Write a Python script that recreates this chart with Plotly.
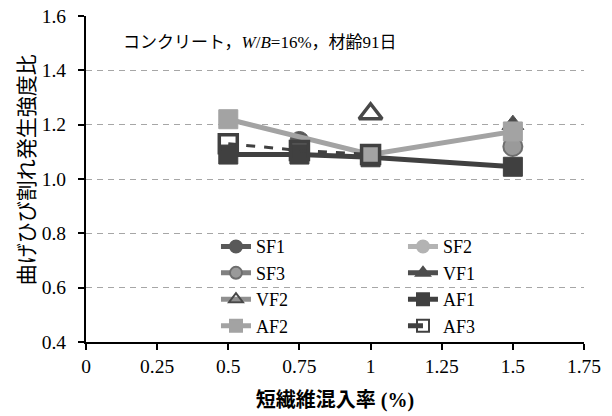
import plotly.graph_objects as go

# Data
sf1_x = [0.75]
sf1_y = [1.14]
sf2_x = [1.0]
sf2_y = [1.09]
sf3_x = [1.5]
sf3_y = [1.12]
vf1_x = [1.5]
vf1_y = [1.20]
vf2_x = [1.0]
vf2_y = [1.24]
af1_x = [0.5, 0.75, 1.0, 1.5]
af1_y = [1.09, 1.09, 1.08, 1.045]
af2_x = [0.5, 1.0, 1.5]
af2_y = [1.22, 1.09, 1.175]
af3_x = [0.5, 0.75, 1.0]
af3_y = [1.13, 1.105, 1.09]

x_ticks = [0, 0.25, 0.5, 0.75, 1, 1.25, 1.5, 1.75]
x_tick_labels = ["0", "0.25", "0.5", "0.75", "1", "1.25", "1.5", "1.75"]
y_ticks = [0.4, 0.6, 0.8, 1.0, 1.2, 1.4, 1.6]
y_tick_labels = ["0.4", "0.6", "0.8", "1.0", "1.2", "1.4", "1.6"]

SERIF = "Liberation Serif, Noto Sans CJK JP"
SANS = "Noto Sans CJK JP"

fig = go.Figure()

def add(name, xs, ys, lcolor, symbol, mcolor, mline, mlw, size=19, dash="solid", lw=5):
    fig.add_trace(go.Scatter(
        x=xs, y=ys, name=name, mode="lines+markers",
        line=dict(color=lcolor, width=lw, dash=dash),
        marker=dict(symbol=symbol, size=size, color=mcolor,
                    line=dict(color=mline, width=mlw)),
    ))

add("SF1", sf1_x, sf1_y, "#595959", "circle", "#595959", "#595959", 1)
add("SF2", sf2_x, sf2_y, "#b3b3b3", "circle", "#b3b3b3", "#b3b3b3", 1)
add("SF3", sf3_x, sf3_y, "#808080", "circle", "#9a9a9a", "#6e6e6e", 2)
add("VF1", vf1_x, vf1_y, "#4d4d4d", "triangle-up", "#4d4d4d", "#4d4d4d", 1)
add("VF2", vf2_x, vf2_y, "#909090", "triangle-up-open", "#484848", "#484848", 3.5, size=20)
add("AF1", af1_x, af1_y, "#404040", "square", "#404040", "#404040", 1)
add("AF2", af2_x, af2_y, "#a3a3a3", "square", "#a3a3a3", "#a3a3a3", 1)
add("AF3", af3_x, af3_y, "#404040", "square-open", "#404040", "#404040", 3.5,
    size=18, dash="dash", lw=3)

# plot area in page pixels: x 86..584, y 16..342
fig.add_annotation(
    x=(121 - 86) / 498, y=(341.7 - 42) / 326, xref="paper", yref="paper",
    xanchor="left", yanchor="middle",
    text="コンクリート，<i>W</i>/<i>B</i>=16%，材齢91日", showarrow=False,
    font=dict(family=SERIF, size=17, color="#000000"),
)
fig.add_annotation(
    x=(25 - 86) / 498, y=(341.7 - 170) / 326, xref="paper", yref="paper",
    xanchor="center", yanchor="middle", textangle=-90,
    text="曲げひび割れ発生強度比", showarrow=False,
    font=dict(family=SANS, size=21, color="#000000"),
)

fig.update_layout(
    width=612, height=416,
    margin=dict(l=86, r=28, t=16, b=74),
    paper_bgcolor="white", plot_bgcolor="white",
    showlegend=True,
    legend=dict(
        orientation="h", x=0.261, y=0.349, xanchor="left", yanchor="top",
        entrywidth=142, entrywidthmode="pixels", itemsizing="constant",
        font=dict(family=SERIF, size=18, color="#000000"),
        bgcolor="rgba(0,0,0,0)", traceorder="normal",
    ),
    xaxis=dict(
        range=[0, 1.75], tickmode="array", tickvals=x_ticks, ticktext=x_tick_labels,
        automargin=False,
        showgrid=False, zeroline=False, showline=True, linecolor="#000000", linewidth=2,
        ticks="outside", ticklen=6, tickwidth=2, tickcolor="#000000",
        tickfont=dict(family=SERIF, size=19.5, color="#000000"),
        title=dict(text="<b>短繊維混入率 (%)</b>", font=dict(family=SERIF, size=20, color="#000000"), standoff=17),
    ),
    yaxis=dict(
        range=[0.4, 1.6], tickmode="array", tickvals=y_ticks, ticktext=y_tick_labels,
        automargin=False,
        showgrid=True, gridcolor="#a6a6a6", gridwidth=1, griddash="6px,5px",
        zeroline=False, showline=True, linecolor="#000000", linewidth=2,
        ticks="outside", ticklen=6, tickwidth=2, tickcolor="#000000",
        ticklabelstandoff=8,
        tickfont=dict(family=SERIF, size=19.5, color="#000000"),
    ),
)

fig.write_html("out.html", config={"displayModeBar": False},
               post_script="document.body.style.margin='0';")
